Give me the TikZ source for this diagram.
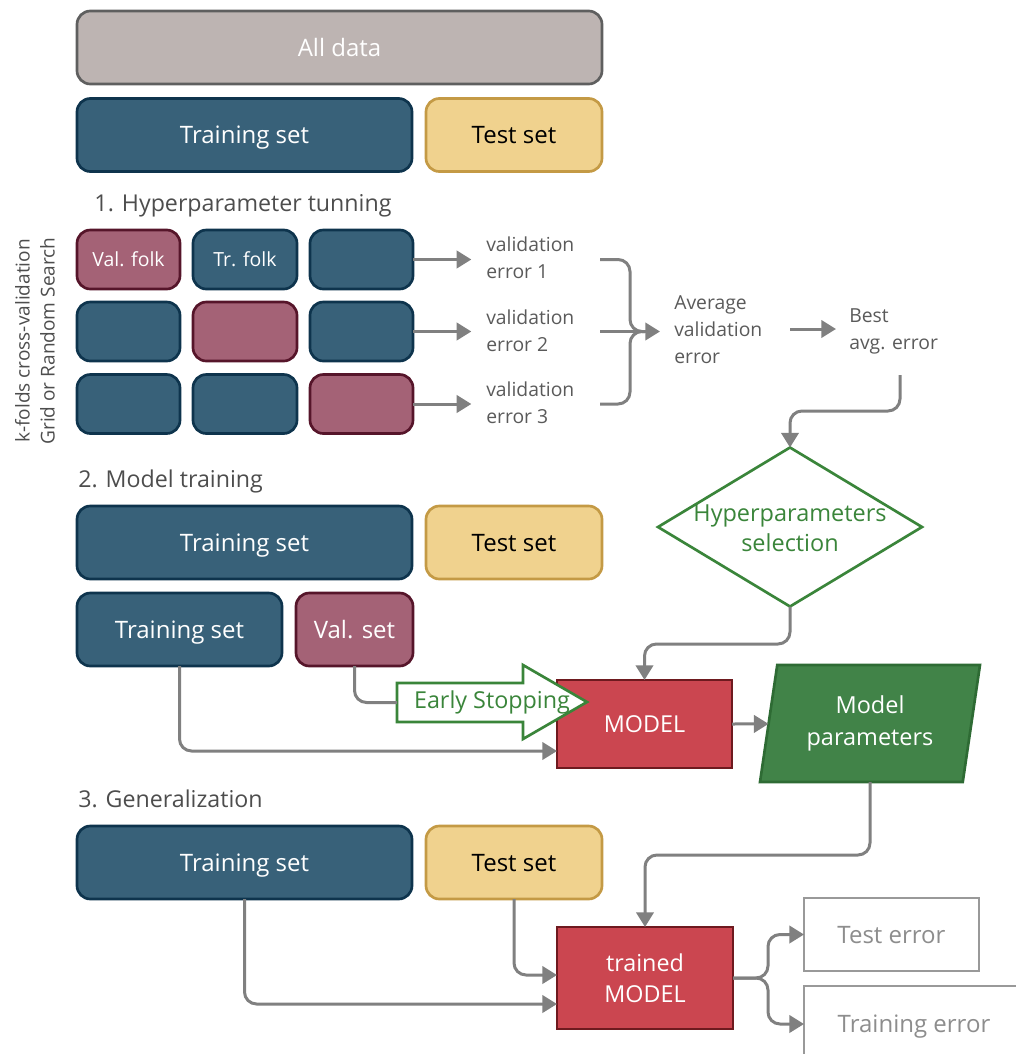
\documentclass[tikz,border=0pt]{standalone}
\usepackage{fontspec}
\setmainfont{Open Sans}
\usetikzlibrary{shapes.geometric,arrows.meta}
\definecolor{adfill}{HTML}{BDB4B2}
\definecolor{addraw}{HTML}{5F5F5F}
\definecolor{trfill}{HTML}{386179}
\definecolor{trdraw}{HTML}{0E344D}
\definecolor{tsfill}{HTML}{F0D28E}
\definecolor{tsdraw}{HTML}{C49A45}
\definecolor{vafill}{HTML}{A46276}
\definecolor{vadraw}{HTML}{56152A}
\definecolor{mofill}{HTML}{CB4650}
\definecolor{modraw}{HTML}{6E1A1F}
\definecolor{pafill}{HTML}{418348}
\definecolor{padraw}{HTML}{2E6B34}
\definecolor{gtext}{HTML}{3A853A}
\definecolor{arr}{HTML}{808080}
\definecolor{head}{HTML}{4D4D4D}
\definecolor{etext}{HTML}{5A5A5A}
\tikzset{
  sz/.style 2 args={minimum width=#1*0.75pt, minimum height=#2*0.75pt},
  base/.style={inner sep=0pt, outer sep=0pt, line width=2pt, rounded corners=10pt, text depth=0pt, font=\fontsize{18}{21}\selectfont},
  alld/.style={base, fill=adfill, draw=addraw, text=white},
  trbox/.style={base, fill=trfill, draw=trdraw, text=white},
  tsbox/.style={base, fill=tsfill, draw=tsdraw, text=black},
  vabox/.style={base, fill=vafill, draw=vadraw, text=white},
  foldlbl/.style={font=\fontsize{14.6}{17}\selectfont},
  heading/.style={inner sep=0pt, text=head, text depth=0pt, font=\fontsize{17.4}{20}\selectfont},
  errtxt/.style={inner sep=0pt, text=etext, align=left, font=\fontsize{14.5}{20.25}\selectfont},
  modelbox/.style={inner sep=0pt, outer sep=0pt, line width=2pt, fill=mofill, draw=modraw, text=white, align=center, font=\fontsize{17.5}{23.25}\selectfont},
  outbox/.style={inner sep=0pt, outer sep=0pt, line width=2pt, fill=white, draw=arr!80, text=arr!90, text depth=0pt, font=\fontsize{18}{21}\selectfont},
  gline/.style={draw=arr, line width=2.25pt},
  conn/.style={gline, -{Triangle[length=11pt,width=13pt]}},
}
\begin{document}
\begin{tikzpicture}[x=0.75pt,y=-0.75pt]
\useasboundingbox (0,0) rectangle (1015,1054);
% top row
\node[alld, sz={525}{73}] (alld) at (339.5,47.5) {All data};
\node[trbox, sz={335}{73}] (tr1) at (244.5,135) {Training set};
\node[tsbox, sz={176}{73}] (ts1) at (514,135) {Test set};
% section 1
\node[heading] (h1) at (243,203) {1. Hyperparameter tunning};
\node[heading, rotate=90, align=center, text depth=, font=\fontsize{14.3}{18.75}\selectfont] (kf) at (35,341) {k-folds cross-validation\\Grid or Random Search};
\node[vabox, sz={103}{59}, foldlbl] (f11) at (128.5,259.5) {Val. folk};
\node[trbox, sz={104}{59}, foldlbl] (f12) at (245,259.5) {Tr. folk};
\node[trbox, sz={103}{59}] (f13) at (361.5,259.5) {};
\node[trbox, sz={103}{59}] (f21) at (128.5,331.5) {};
\node[vabox, sz={104}{59}] (f22) at (245,331.5) {};
\node[trbox, sz={103}{59}] (f23) at (361.5,331.5) {};
\node[trbox, sz={103}{59}] (f31) at (128.5,404) {};
\node[trbox, sz={104}{59}] (f32) at (245,404) {};
\node[vabox, sz={103}{59}] (f33) at (361.5,404) {};
\node[errtxt, anchor=west] (ve1) at (486,258) {validation\\error 1};
\node[errtxt, anchor=west] (ve2) at (486,330.5) {validation\\error 2};
\node[errtxt, anchor=west] (ve3) at (486,403) {validation\\error 3};
\draw[conn, shorten >=11pt] (f13.east) -- (ve1.west |- f13.east);
\draw[conn, shorten >=11pt] (f23.east) -- (ve2.west |- f23.east);
\draw[conn, shorten >=11pt] (f33.east) -- (ve3.west |- f33.east);
\node[errtxt, anchor=west] (avg) at (674,329.5) {Average\\validation\\error};
\coordinate (b1) at (600,259.5);
\coordinate (b2) at (600,331.5);
\coordinate (b3) at (600,404);
\draw[gline, rounded corners=9pt] (b1) -| (630,331.5) -- (645,331.5);
\draw[gline, rounded corners=9pt] (b3) -| (630,331.5) -- (645,331.5);
\draw[conn, shorten >=10.5pt] (b2) -- (avg.west |- b2);
\node[errtxt, anchor=west] (best) at (849,331) {Best\\avg. error};
\coordinate (a1) at (790,329);
\draw[conn, shorten >=9.75pt] (a1) -- (best.west |- a1);
\coordinate (bd) at (900,375);
% diamond
\node[diamond, draw=gtext, line width=2pt, fill=white, sz={264}{159}, inner sep=0pt, outer sep=0pt] (hyp) at (790,527) {};
\node[inner sep=0pt, text=gtext, align=center, font=\fontsize{17.6}{22.5}\selectfont] (hyptxt) at (790,528) {Hyperparameters\\selection};
\draw[conn, rounded corners=9pt] (bd) -- (900,411) -| (hyp.north);
% section 2
\node[heading, anchor=west] (h2) at (78,479) {2. Model training};
\node[trbox, sz={335}{73}] (tr2) at (244.5,542.5) {Training set};
\node[tsbox, sz={176}{73}] (ts2) at (514,542.5) {Test set};
\node[trbox, sz={205}{73}] (tr2b) at (179.5,629.5) {Training set};
\node[vabox, sz={117}{73}] (vs) at (354.5,629.5) {Val. set};
\node[modelbox, sz={175}{88}] (model) at (644.5,724) {MODEL};
\node[trapezium, trapezium left angle=78, trapezium right angle=102, trapezium stretches=true, fill=pafill, draw=padraw, line width=2pt, sz={220}{117}, inner sep=0pt, outer sep=0pt, text=white, align=center, font=\fontsize{17.6}{24}\selectfont] (params) at (870,723.5) {Model\\parameters};
% early stopping arrow
\draw[draw=gtext, line width=2pt, fill=white] (397,683) -- (523,683) -- (523,665) -- (587,702) -- (523,739) -- (523,722) -- (397,722) -- cycle;
\node[inner sep=0pt, text=gtext, font=\fontsize{17.5}{20}\selectfont] (es) at (492,702) {Early Stopping};
\coordinate (esw) at (397,702.5);
\draw[gline, rounded corners=9pt] (vs.south) |- (esw);
\draw[conn, rounded corners=9pt] (tr2b.south) |- ([yshift=-20.25pt]model.west);
\draw[conn, rounded corners=9pt] (hyp.south) -- (790,644) -| (model.north);
\draw[conn] (model.east) -- (params);
% section 3
\node[heading, anchor=west] (h3) at (78,799) {3. Generalization};
\node[trbox, sz={335}{73}] (tr3) at (244.5,862.5) {Training set};
\node[tsbox, sz={176}{73}] (ts3) at (514,862.5) {Test set};
\node[modelbox, sz={176}{102}] (trained) at (645,978) {trained\\MODEL};
\draw[conn, rounded corners=9pt] (params.south) -- (870,855) -| (trained.north);
\draw[conn, rounded corners=9pt] (ts3.south) |- ([yshift=2.25pt]trained.west);
\draw[conn, rounded corners=9pt] (tr3.south) |- ([yshift=-19.5pt]trained.west);
\node[outbox, sz={175}{73}] (testerr) at (891.5,934.5) {Test error};
\node[outbox, sz={220}{76}] (trainerr) at (914,1024) {Training error};
\draw[conn, rounded corners=9pt] (trained.east) -- (768,978) |- (testerr.west);
\draw[conn, rounded corners=9pt] (trained.east) -- (768,978) |- (trainerr.west);
\end{tikzpicture}
\end{document}
